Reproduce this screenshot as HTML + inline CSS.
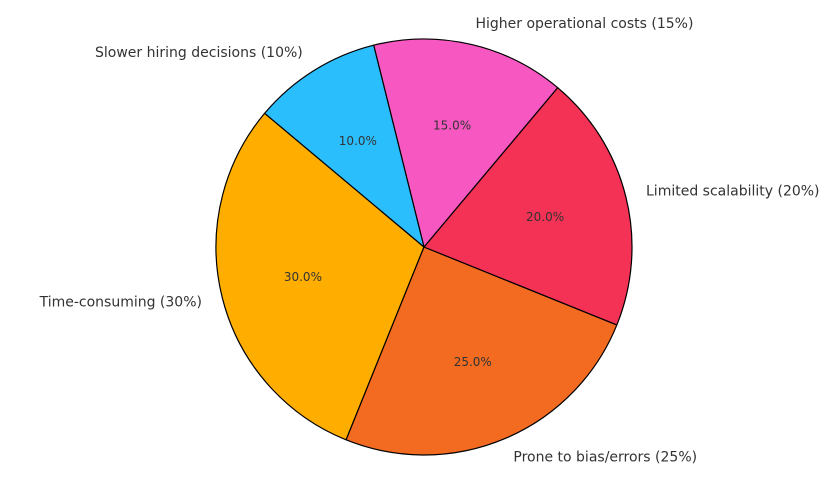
<!DOCTYPE html>
<html><head><meta charset="utf-8"><style>
html,body{margin:0;padding:0;background:#fff;}
svg{display:block;font-family:"DejaVu Sans","Liberation Sans",sans-serif;}
</style></head><body>
<svg id="chart" width="837" height="483" viewBox="0 0 837 483"></svg>
<script>
const categories = ["Time-consuming", "Prone to bias/errors", "Limited scalability", "Higher operational costs", "Slower hiring decisions"];
const values = [30, 25, 20, 15, 10];
const colors = ["#FFAE00", "#F26B21", "#F43256", "#F757C1", "#2BBEFC"];
const startAngle = 140;
const cx = 424, cy = 247, r = 208;
const svg = document.getElementById('chart');
const NS = 'http://www.w3.org/2000/svg';
const total = values.reduce((a, b) => a + b, 0);
function pt(angDeg, rad) {
  const a = angDeg * Math.PI / 180;
  return [cx + rad * Math.cos(a), cy - rad * Math.sin(a)];
}
let ang = startAngle;
values.forEach((v, i) => {
  const sweep = v / total * 360;
  const a0 = ang, a1 = ang + sweep;
  const p0 = pt(a0, r), p1 = pt(a1, r);
  const large = sweep > 180 ? 1 : 0;
  const path = document.createElementNS(NS, 'path');
  path.setAttribute('d', `M${cx},${cy} L${p0[0]},${p0[1]} A${r},${r} 0 ${large} 0 ${p1[0]},${p1[1]} Z`);
  path.setAttribute('fill', colors[i]);
  path.setAttribute('stroke', '#000');
  path.setAttribute('stroke-width', '1.2');
  path.setAttribute('stroke-linejoin', 'round');
  
  
  svg.appendChild(path);
  ang = a1;
});
ang = startAngle;
values.forEach((v, i) => {
  const sweep = v / total * 360;
  const mid = ang + sweep / 2;
  const pp = pt(mid, r * 0.6);
  const t = document.createElementNS(NS, 'text');
  t.setAttribute('x', pp[0]); t.setAttribute('y', pp[1]);
  t.setAttribute('text-anchor', 'middle');
  t.setAttribute('dominant-baseline', 'central');
  t.setAttribute('font-size', '12');
  t.setAttribute('fill', '#333');
  t.textContent = (v / total * 100).toFixed(1) + '%';
  
  
  svg.appendChild(t);
  const lp = pt(mid, r * 1.1);
  const l = document.createElementNS(NS, 'text');
  l.setAttribute('x', lp[0]); l.setAttribute('y', lp[1]);
  l.setAttribute('text-anchor', lp[0] >= cx ? 'start' : 'end');
  l.setAttribute('dominant-baseline', 'central');
  l.setAttribute('font-size', '14');
  l.setAttribute('fill', '#333');
  l.textContent = categories[i] + ' (' + v + '%)';
  
  
  svg.appendChild(l);
  ang += sweep;
});
</script>
</body></html>
